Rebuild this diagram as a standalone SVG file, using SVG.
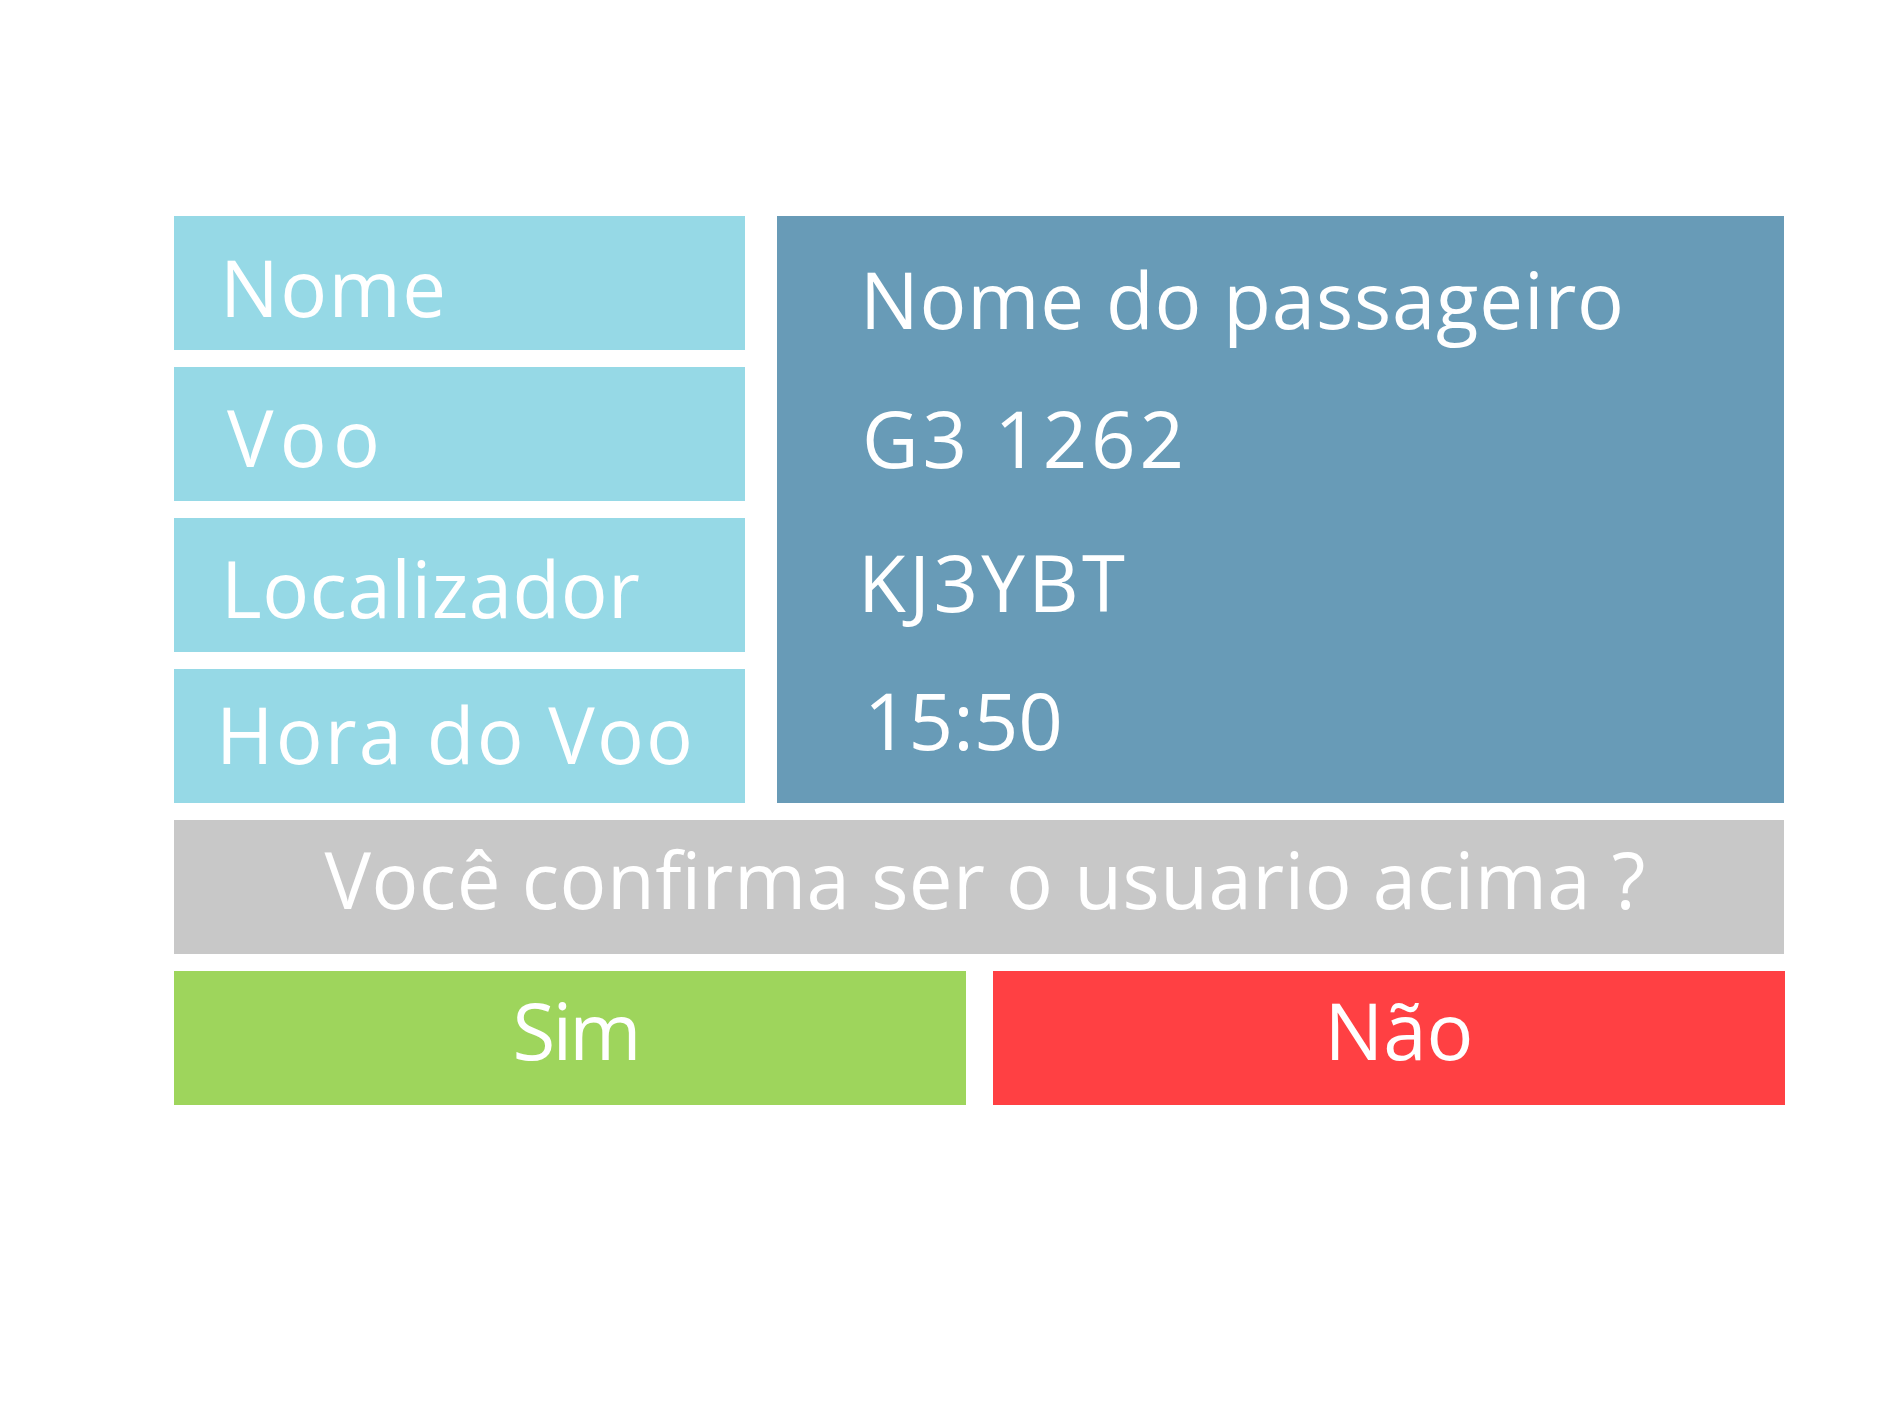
<svg xmlns="http://www.w3.org/2000/svg" width="1890" height="1417" viewBox="0 0 1890 1417">
<style>
.t{font-family:"Open Sans","Liberation Sans",sans-serif;font-size:78px;fill:#ffffff}
.lbl{fill:#96d9e6}
.val{fill:#689bb7}
.q{fill:#c8c8c8}
.yes{fill:#9ed55c}
.no{fill:#ff4043}
</style>
<rect width="1890" height="1417" fill="#ffffff"/>
<g id="label-nome"><rect class="lbl" x="174" y="216" width="571" height="134"/><text class="t" x="220" y="317" textLength="226" lengthAdjust="spacing">Nome</text></g>
<g id="label-voo"><rect class="lbl" x="174" y="367" width="571" height="134"/><text class="t" x="227" y="467" textLength="153" lengthAdjust="spacing">Voo</text></g>
<g id="label-localizador"><rect class="lbl" x="174" y="518" width="571" height="134"/><text class="t" x="221" y="618" textLength="419" lengthAdjust="spacing">Localizador</text></g>
<g id="label-hora"><rect class="lbl" x="174" y="669" width="571" height="134"/><text class="t" x="216" y="764" textLength="477" lengthAdjust="spacing">Hora do Voo</text></g>
<g id="values"><rect class="val" x="777" y="216" width="1007" height="587"/>
<text class="t" x="860" y="329" textLength="764" lengthAdjust="spacing">Nome do passageiro</text>
<text class="t" x="862" y="468" textLength="322" lengthAdjust="spacing">G3 1262</text>
<text class="t" x="858" y="612" textLength="267" lengthAdjust="spacing">KJ3YBT</text>
<text class="t" x="864" y="750">15:50</text>
</g>
<g id="question"><rect class="q" x="174" y="820" width="1610" height="134"/><text class="t" x="985" y="909" text-anchor="middle" textLength="1321" lengthAdjust="spacing">Você confirma ser o usuario acima ?</text></g>
<g id="btn-sim"><rect class="yes" x="174" y="971" width="792" height="134"/><text class="t" x="577" y="1060" text-anchor="middle" textLength="129" lengthAdjust="spacing">Sim</text></g>
<g id="btn-nao"><rect class="no" x="993" y="971" width="792" height="134"/><text class="t" x="1399" y="1060" text-anchor="middle">Não</text></g>
<g id="connectors"/>
</svg>
